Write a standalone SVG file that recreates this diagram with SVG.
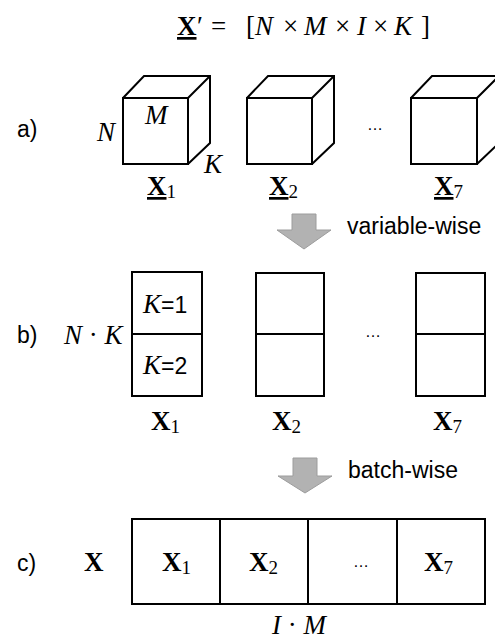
<svg xmlns="http://www.w3.org/2000/svg" width="495" height="641" viewBox="0 0 495 641">
<style>
.ln{fill:none;stroke:#000;stroke-width:2;stroke-linejoin:miter}
.bx{fill:#fff;stroke:#000;stroke-width:2}
.m{font-family:"Liberation Serif","DejaVu Serif",serif;font-size:27px;fill:#000}
.i{font-style:italic}
.b{font-weight:bold}
.sub{font-size:19px;font-weight:normal}
.s{font-family:"Liberation Sans",Arial,sans-serif;font-size:23px;fill:#000}
.dots{font-family:"Liberation Sans",Arial,sans-serif;font-size:16px;fill:#000}
.arr{fill:#b2b2b2;stroke:#9c9c9c;stroke-width:1}
</style>
<rect width="495" height="641" fill="#fff"/>
<g id="title">
<text class="m" y="35"><tspan x="177" class="b" text-decoration="underline">X</tspan><tspan x="197">′</tspan><tspan x="211">=</tspan><tspan x="246">[</tspan><tspan x="255" class="i">N</tspan><tspan x="283">×</tspan><tspan x="304" class="i">M</tspan><tspan x="335">×</tspan><tspan x="357" class="i">I</tspan><tspan x="373">×</tspan><tspan x="394" class="i">K</tspan><tspan x="421">]</tspan></text>
</g>
<g id="a">
<text class="s" x="17" y="137">a)</text>
<g id="cube1">
<path class="ln" d="M123,98 H188 V164 H123 Z M123,98 L144,76 H210 V143 L188,164 M188,98 L210,76"/>
<text class="m i" x="97" y="141">N</text>
<text class="m i" x="145" y="124">M</text>
<text class="m i" x="204" y="173">K</text>
<text class="m" y="195"><tspan x="147" class="b" text-decoration="underline">X</tspan><tspan class="sub" dy="3">1</tspan></text>
</g>
<g id="cube2">
<path class="ln" d="M247,98 H312 V164 H247 Z M247,98 L268,76 H334 V143 L312,164 M312,98 L334,76"/>
<text class="m" y="195"><tspan x="269" class="b" text-decoration="underline">X</tspan><tspan class="sub" dy="3">2</tspan></text>
</g>
<text class="dots" x="367" y="130">…</text>
<g id="cube7">
<path class="ln" d="M411,98 H477 V164 H411 Z M411,98 L432,76 H499 V143 L477,164 M477,98 L499,76"/>
<text class="m" y="195"><tspan x="434" class="b" text-decoration="underline">X</tspan><tspan class="sub" dy="3">7</tspan></text>
</g>
</g>
<g id="connectors">
<path class="arr" d="M292,214 H316 V230 H331 L304,249 L277,230 H292 Z"/>
<path class="arr" d="M293,458 H317 V476 H332 L305,493 L278,476 H293 Z"/>
</g>
<text class="s" x="347" y="234">variable-wise</text>
<text class="s" x="348" y="478">batch-wise</text>
<g id="b">
<text class="s" x="17" y="343">b)</text>
<text class="m" x="64" y="344"><tspan class="i">N</tspan> · <tspan class="i">K</tspan></text>
<g id="mat1">
<rect class="bx" x="132" y="272" width="70" height="124"/>
<line class="ln" x1="132" y1="334" x2="202" y2="334"/>
<text x="143" y="313"><tspan class="m i">K</tspan><tspan class="s">=1</tspan></text>
<text x="143" y="374"><tspan class="m i">K</tspan><tspan class="s">=2</tspan></text>
<text class="m" y="430"><tspan x="151" class="b">X</tspan><tspan class="sub" dy="3">1</tspan></text>
</g>
<g id="mat2">
<rect class="bx" x="256" y="273" width="68" height="123"/>
<line class="ln" x1="256" y1="334" x2="324" y2="334"/>
<text class="m" y="430"><tspan x="272" class="b">X</tspan><tspan class="sub" dy="3">2</tspan></text>
</g>
<text class="dots" x="365" y="337">…</text>
<g id="mat7">
<rect class="bx" x="416" y="273" width="69" height="123"/>
<line class="ln" x1="416" y1="334" x2="485" y2="334"/>
<text class="m" y="430"><tspan x="433" class="b">X</tspan><tspan class="sub" dy="3">7</tspan></text>
</g>
</g>
<g id="c">
<text class="s" x="17" y="571">c)</text>
<text class="m b" x="84" y="571">X</text>
<g id="big">
<rect class="bx" x="132" y="519" width="353" height="85"/>
<line class="ln" x1="220" y1="519" x2="220" y2="604" stroke-width="1.5"/>
<line class="ln" x1="308" y1="519" x2="308" y2="604" stroke-width="1.5"/>
<line class="ln" x1="397" y1="519" x2="397" y2="604" stroke-width="1.5"/>
<text class="m" y="571"><tspan x="162" class="b">X</tspan><tspan class="sub" dy="3">1</tspan></text>
<text class="m" y="571"><tspan x="249" class="b">X</tspan><tspan class="sub" dy="3">2</tspan></text>
<text class="dots" x="353" y="567">…</text>
<text class="m" y="571"><tspan x="424" class="b">X</tspan><tspan class="sub" dy="3">7</tspan></text>
</g>
<text class="m" x="272" y="634"><tspan class="i">I</tspan> · <tspan class="i">M</tspan></text>
</g>
</svg>
